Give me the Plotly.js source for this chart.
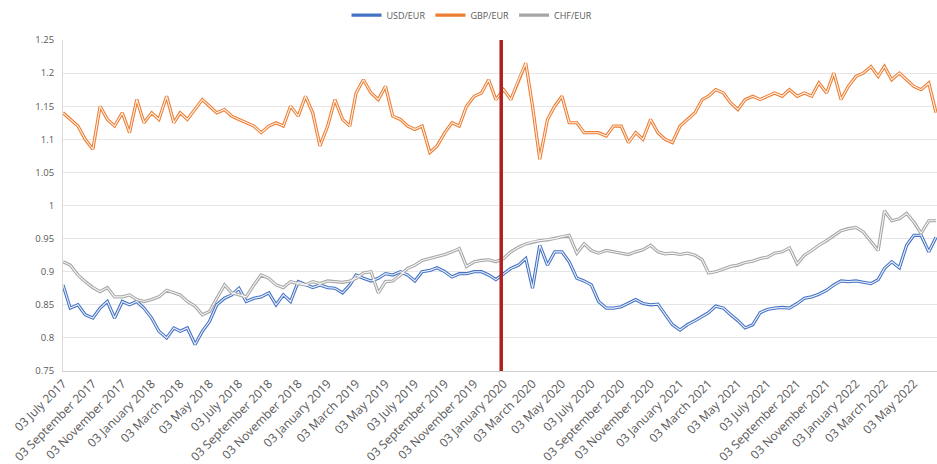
<!DOCTYPE html>
<html>
<head>
<meta charset="utf-8">
<script src="https://cdn.plot.ly/plotly-3.0.1.min.js"></script>
<style>html,body{margin:0;padding:0;background:#fff;}#chart{width:937px;height:464px;}</style>
</head>
<body>
<div id="chart"></div>
<script>
// Semi-monthly observation dates (3rd and 18th of each month), July 2017 - June 2022
var startYear = 2017, startMonth = 7, nPoints = 120;
var dates = [];
for (var i = 0; i < nPoints; i++) {
  var m = startMonth - 1 + Math.floor(i / 2);
  var y = startYear + Math.floor(m / 12);
  var mm = (m % 12) + 1;
  dates.push(y + '-' + (mm < 10 ? '0' : '') + mm + '-' + (i % 2 === 0 ? '03' : '18'));
}

var usdEur = [0.88,0.845,0.85,0.835,0.83,0.845,0.855,0.83,0.855,0.85,
  0.855,0.845,0.83,0.81,0.80,0.815,0.81,0.815,0.79,0.81,
  0.825,0.85,0.86,0.865,0.875,0.855,0.86,0.862,0.868,0.85,
  0.865,0.855,0.885,0.88,0.876,0.88,0.876,0.875,0.868,0.88,
  0.895,0.89,0.886,0.89,0.897,0.895,0.90,0.895,0.886,0.90,
  0.902,0.906,0.90,0.892,0.897,0.897,0.90,0.90,0.895,0.888,
  0.897,0.905,0.91,0.92,0.875,0.94,0.91,0.93,0.93,0.915,
  0.89,0.886,0.88,0.855,0.845,0.845,0.847,0.852,0.858,0.852,
  0.85,0.851,0.835,0.82,0.812,0.82,0.826,0.832,0.838,0.848,
  0.845,0.835,0.826,0.815,0.82,0.838,0.843,0.845,0.846,0.845,
  0.852,0.86,0.862,0.866,0.872,0.88,0.886,0.885,0.886,0.884,
  0.882,0.888,0.905,0.915,0.906,0.94,0.955,0.955,0.93,0.952];

var gbpEur = [1.14,1.13,1.12,1.10,1.085,1.15,1.13,1.12,1.14,1.11,
  1.16,1.125,1.14,1.13,1.165,1.125,1.14,1.13,1.145,1.16,
  1.15,1.14,1.145,1.135,1.13,1.125,1.12,1.11,1.12,1.125,
  1.12,1.15,1.135,1.165,1.14,1.09,1.12,1.16,1.13,1.12,
  1.17,1.19,1.17,1.16,1.18,1.135,1.13,1.12,1.115,1.12,
  1.08,1.09,1.11,1.125,1.12,1.15,1.165,1.17,1.19,1.16,
  1.175,1.16,1.19,1.215,1.15,1.07,1.13,1.15,1.165,1.125,
  1.125,1.11,1.11,1.11,1.105,1.12,1.12,1.095,1.11,1.10,
  1.13,1.11,1.10,1.095,1.12,1.13,1.14,1.16,1.165,1.175,
  1.17,1.155,1.145,1.16,1.165,1.16,1.165,1.17,1.165,1.175,
  1.165,1.17,1.165,1.185,1.17,1.20,1.16,1.18,1.195,1.20,
  1.21,1.195,1.21,1.19,1.20,1.19,1.18,1.175,1.185,1.14];

var chfEur = [0.915,0.91,0.895,0.885,0.876,0.87,0.876,0.862,0.862,0.865,
  0.858,0.855,0.858,0.862,0.872,0.868,0.865,0.855,0.848,0.835,
  0.84,0.86,0.88,0.868,0.865,0.862,0.88,0.895,0.89,0.88,
  0.876,0.885,0.882,0.88,0.885,0.882,0.886,0.885,0.884,0.886,
  0.89,0.898,0.90,0.868,0.885,0.886,0.895,0.905,0.91,0.917,
  0.92,0.922,0.926,0.93,0.935,0.908,0.915,0.917,0.918,0.915,
  0.92,0.93,0.937,0.942,0.945,0.947,0.948,0.95,0.953,0.955,
  0.928,0.942,0.932,0.928,0.932,0.93,0.928,0.926,0.93,0.933,
  0.94,0.93,0.927,0.928,0.926,0.928,0.925,0.918,0.898,0.90,
  0.904,0.908,0.91,0.914,0.916,0.92,0.922,0.928,0.93,0.936,
  0.912,0.925,0.932,0.94,0.947,0.955,0.962,0.965,0.967,0.96,
  0.945,0.932,0.992,0.977,0.98,0.988,0.975,0.958,0.977,0.977];

var seriesNames = ['USD/EUR', 'GBP/EUR', 'CHF/EUR'];
var seriesValues = [usdEur, gbpEur, chfEur];
var seriesColors = ['#4472C4', '#ED7D31', '#A5A5A5'];

var yTickVals = [0.75,0.8,0.85,0.9,0.95,1,1.05,1.1,1.15,1.2,1.25];
var yTickText = ['0.75','0.8','0.85','0.9','0.95','1','1.05','1.1','1.15','1.2','1.25'];
var eventDate = '2019-12-29';

var traces = [];
for (var s = 0; s < 3; s++) {
  traces.push({x: dates, y: seriesValues[s], type: 'scatter', mode: 'lines', name: seriesNames[s],
    line: {color: seriesColors[s], width: 3.2}, hoverinfo: 'skip'});
}
for (var s2 = 0; s2 < 3; s2++) {
  traces.push({x: dates, y: seriesValues[s2], type: 'scatter', mode: 'lines', showlegend: false,
    line: {color: 'rgba(255,255,255,0.9)', width: 1.1}, hoverinfo: 'skip'});
}

var layout = {
  width: 937, height: 464,
  margin: {l: 63, r: 0, t: 40, b: 93},
  paper_bgcolor: '#fff', plot_bgcolor: '#fff',
  font: {family: 'Open Sans, Noto Sans, sans-serif', color: '#595959'},
  showlegend: true,
  legend: {orientation: 'h', x: 0.468, xanchor: 'center', y: 1.075, yanchor: 'middle',
    font: {size: 9, color: '#595959'}, traceorder: 'normal', itemwidth: 30},
  xaxis: {type: 'date', range: ['2017-07-03', '2022-06-20'], tick0: '2017-07-03', dtick: 'M2',
    tickformat: '%d %B %Y', tickangle: -45, tickfont: {size: 12, color: '#595959'},
    showgrid: false, showline: true, linecolor: '#d0d0d0', linewidth: 1, zeroline: false,
    ticks: '', fixedrange: true},
  yaxis: {range: [0.75, 1.25], tickvals: yTickVals, ticktext: yTickText,
    tickfont: {size: 9.5, color: '#595959'}, showgrid: true, gridcolor: '#e6e6e6', gridwidth: 1,
    showline: true, linecolor: '#d9d9d9', zeroline: false, ticks: 'outside', ticklen: 6,
    tickcolor: 'rgba(0,0,0,0)', fixedrange: true},
  shapes: [{type: 'line', xref: 'x', yref: 'paper', x0: eventDate, x1: eventDate, y0: 0, y1: 1,
    line: {color: '#B01E1E', width: 3.5}}]
};

Plotly.newPlot('chart', traces, layout, {displayModeBar: false, staticPlot: true});
</script>
</body>
</html>
